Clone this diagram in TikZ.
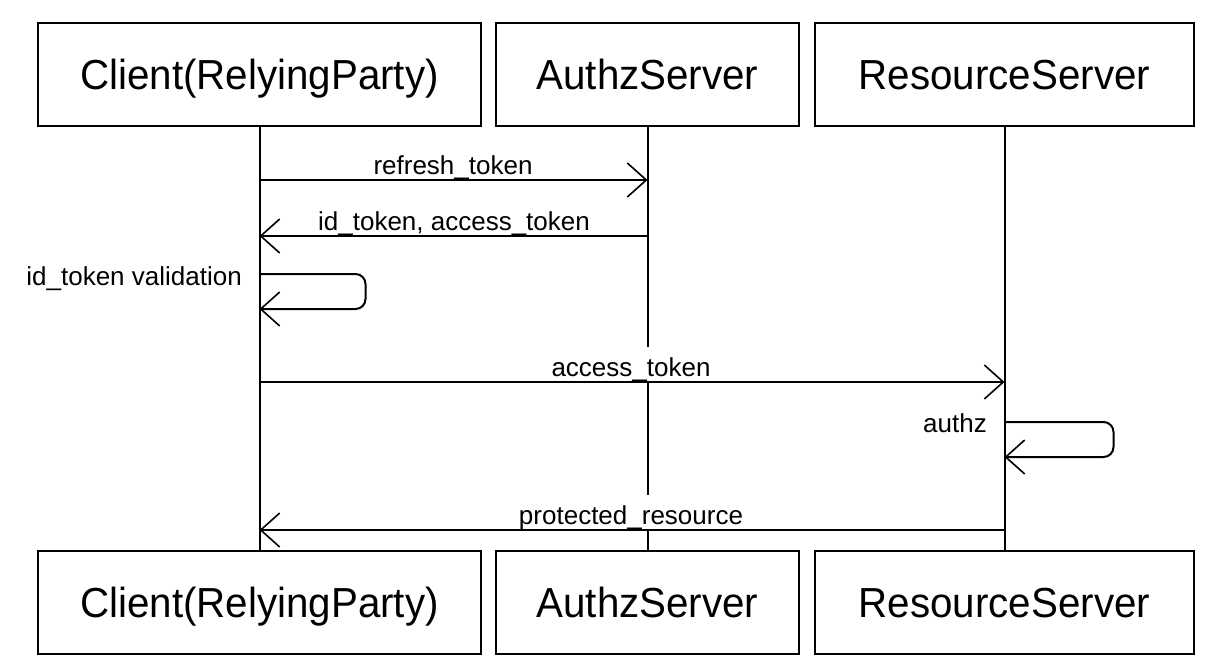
\documentclass[tikz,border=0pt]{standalone}
\usepackage{fontspec}
\setmainfont{Liberation Sans}
\newfontfamily\actorfont[FakeStretch=0.96]{Liberation Sans}
\usetikzlibrary{arrows.meta}
\begin{document}
\begin{tikzpicture}[x=1pt,y=-1pt,
  actor/.style={draw, line width=2pt, minimum height=103pt, inner sep=0pt, text height=30pt, text depth=0pt, font=\actorfont\fontsize{42}{48}\selectfont},
  life/.style={line width=2pt},
  msg/.style={line width=2pt, -{Straight Barb[length=19pt,width=34pt,line width=1.6pt]}},
  lbl/.style={font=\fontsize{26}{30}\selectfont, fill=white, inner xsep=2pt, inner ysep=6pt, text height=23pt, text depth=0pt, anchor=base},
  note/.style={font=\fontsize{26}{30}\selectfont, inner sep=0pt, anchor=base east},
]
\useasboundingbox (0,0) rectangle (1215,669);
% actors
\node[actor, minimum width=443pt] (c1) at (259.5,74.5) {Client(RelyingParty)};
\node[actor, minimum width=303pt] (a1) at (647.5,74.5) {AuthzServer};
\node[actor, minimum width=379pt] (r1) at (1004.5,74.5) {ResourceServer};
\node[actor, minimum width=443pt] (c2) at (259.5,602) {Client(RelyingParty)};
\node[actor, minimum width=303pt] (a2) at (647.5,602) {AuthzServer};
\node[actor, minimum width=379pt] (r2) at (1004.5,602) {ResourceServer};
% lifelines
\draw[life] (c1.south) -- (c2.north);
\draw[life] (a1.south) -- (a2.north);
\draw[life] (r1.south) -- (r2.north);
% message points
\coordinate (m1c) at (c1 |- 0,180);  \coordinate (m1a) at (a1 |- 0,180);
\coordinate (m2c) at (c1 |- 0,236);  \coordinate (m2a) at (a1 |- 0,236);
\coordinate (l1s) at (c1 |- 0,274);  \coordinate (l1e) at (c1 |- 0,309);
\coordinate (m3c) at (c1 |- 0,382);  \coordinate (m3r) at (r1 |- 0,382);
\coordinate (l2s) at (r1 |- 0,422);  \coordinate (l2e) at (r1 |- 0,457);
\coordinate (m4c) at (c1 |- 0,530);  \coordinate (m4r) at (r1 |- 0,530);
% labels
\node[lbl] (t1) at (453,174) {refresh\_token};
\node[lbl] (t2) at (454,230) {id\_token, access\_token};
\node[note] (t3) at (242,285) {id\_token validation};
\node[lbl] (t4) at (631,376) {access\_token};
\node[note] (t5) at (987,432) {authz};
\node[lbl] (t6) at (631,524) {protected\_resource};
% messages
\draw[msg] (m1c) -- (m1a);
\draw[msg] (m2a) -- (m2c);
\draw[msg, rounded corners=10pt] (l1s) -- ++(106,0) -- ++(0,35) -- (l1e);
\draw[msg] (m3c) -- (m3r);
\draw[msg, rounded corners=10pt] (l2s) -- ++(109,0) -- ++(0,35) -- (l2e);
\draw[msg] (m4r) -- (m4c);
\end{tikzpicture}
\end{document}
